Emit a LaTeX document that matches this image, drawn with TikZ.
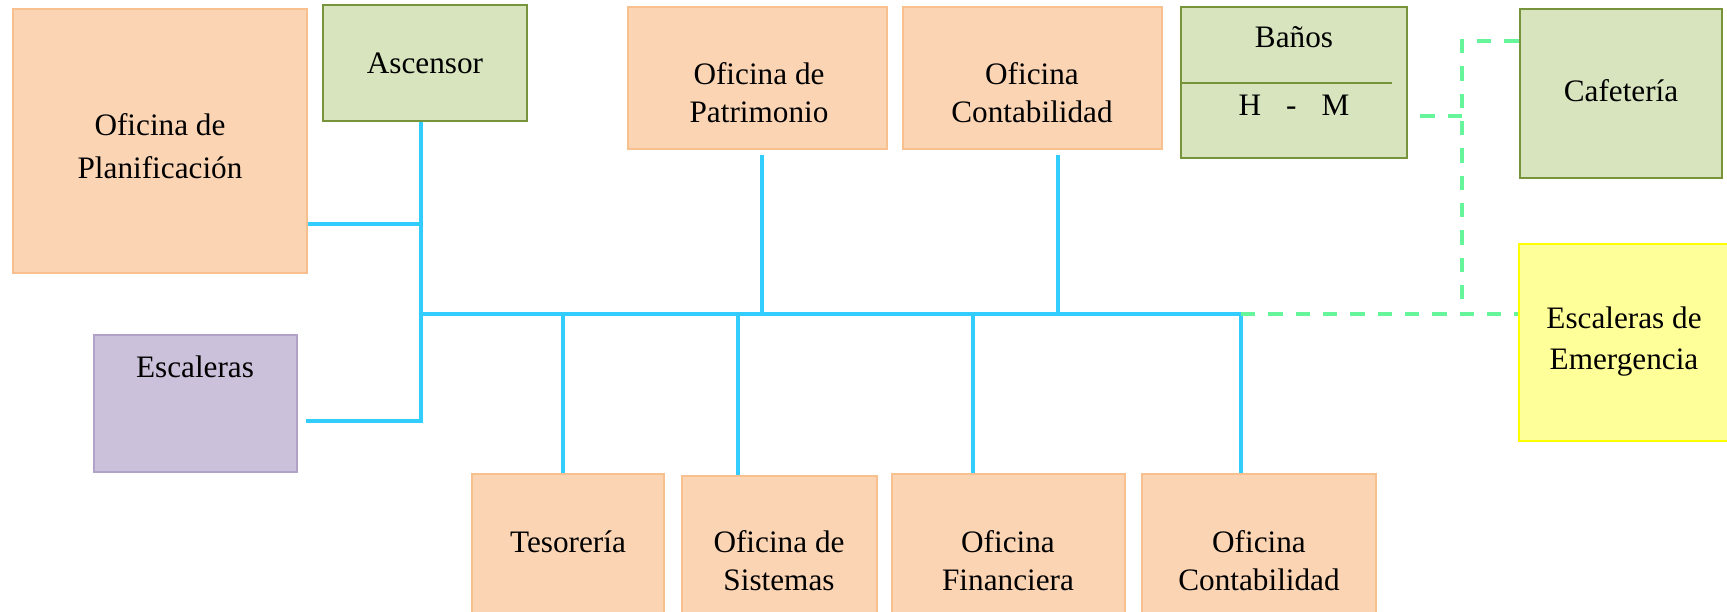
\documentclass[tikz,border=0pt]{standalone}
\usepackage{fontspec}
\setmainfont{Liberation Serif}
\usepackage{tikz}
\usetikzlibrary{fit}

\definecolor{peachfill}{HTML}{FBD4B4}
\definecolor{peachdraw}{HTML}{F9C08F}
\definecolor{olivefill}{HTML}{D7E4BD}
\definecolor{olivedraw}{HTML}{77933C}
\definecolor{lilacfill}{HTML}{CCC1DA}
\definecolor{lilacdraw}{HTML}{B3A2C7}
\definecolor{exitfill}{HTML}{FFFF99}
\definecolor{exitdraw}{HTML}{FFFF00}
\definecolor{hallblue}{HTML}{33CCFF}
\definecolor{linkgreen}{HTML}{66F59A}

\begin{document}
\begin{tikzpicture}[x=0.0135cm, y=-0.0135cm]
    % Define styles
    \tikzstyle{room}=[inner sep=0pt, line width=0.8pt]
    \tikzstyle{office}=[room, draw=peachdraw, fill=peachfill]
    \tikzstyle{service}=[room, draw=olivedraw, fill=olivefill, line width=1pt]
    \tikzstyle{stairs}=[room, draw=lilacdraw, fill=lilacfill]
    \tikzstyle{exit_room}=[room, draw=exitdraw, fill=exitfill]
    \tikzstyle{room_text}=[anchor=north, inner sep=0pt, align=center, font=\fontsize{12}{14.5}\selectfont]
    \tikzstyle{hall}=[line width=1.9pt, color=hallblue]
    \tikzstyle{link_dashed}=[line width=1.5pt, color=linkgreen, dash pattern=on 5.5pt off 5pt]

    \useasboundingbox (0,0) rectangle (1727,611);

    % --- 1. Rooms (boxes) ---
    \node[office, fit={(13,9) (307,273)}] (plan) {};
    \node[service, fit={(323,5) (527,121)}] (asc) {};
    \node[stairs, fit={(94,335) (297,472)}] (esc) {};
    \node[office, fit={(628,7) (887,149)}] (patr) {};
    \node[office, fit={(903,7) (1162,149)}] (contb) {};
    \node[service, fit={(1181,7) (1407,158)}] (banos) {};
    \node[service, fit={(1520,9) (1722,178)}] (cafe) {};
    \node[exit_room, fit={(1519,244) (1732,441)}] (emer) {};

    % bottom row
    \node[office, fit={(472,474) (664,640)}] (teso) {};
    \node[office, fit={(682,476) (877,640)}] (sist) {};
    \node[office, fit={(892,474) (1125,640)}] (fina) {};
    \node[office, fit={(1142,474) (1376,640)}] (conta) {};

    % divider inside Banos
    \coordinate (div) at (1392,83);
    \draw[olivedraw, line width=0.8pt] (div -| banos.west) -- (div);

    % --- 2. Texts ---
    \node[room_text, font=\fontsize{12}{16.5}\selectfont] (plan-t) at (160,113) {Oficina de\\Planificación};
    \node[room_text] (asc-t) at (425,52) {Ascensor};
    \node[room_text] (esc-t) at (195,355) {Escaleras};
    \node[room_text] (patr-t) at (759,62) {Oficina de\\Patrimonio};
    \node[room_text] (contb-t) at (1032,62) {Oficina\\Contabilidad};
    \node[room_text] (banos-t) at (1294,26) {Baños};
    \node[room_text] (hm-t) at (1294,95) {H\hspace{0.8em}-\hspace{0.8em}M};
    \node[room_text] (cafe-t) at (1621,79) {Cafetería};
    \node[room_text, font=\fontsize{12}{16}\selectfont] (emer-t) at (1624,306) {Escaleras de\\Emergencia};
    \node[room_text] (teso-t) at (568,530) {Tesorería};
    \node[room_text] (sist-t) at (779,530) {Oficina de\\Sistemas};
    \node[room_text] (fina-t) at (1008,530) {Oficina\\Financiera};
    \node[room_text] (conta-t) at (1259,530) {Oficina\\Contabilidad};

    % --- 3. Corridors (blue) ---
    \coordinate (j-plan) at (421,224);
    \coordinate (j-bus) at (421,314);
    \coordinate (j-esc) at (421,421);
    \coordinate (e-esc) at (306,421);
    \coordinate (j-end) at (1241,314);

    \draw[hall] (asc.south -| j-bus) -- (j-esc) -- (e-esc);
    \draw[hall] (plan.east |- j-plan) -- (j-plan);
    \draw[hall] (j-bus) -- (j-end) -- (j-end |- conta.north);

    % up to the top offices
    \foreach \b/\x in {patr/762, contb/1058} {
        \coordinate (u-\b) at (\x,314);
        \draw[hall, shorten >=2pt] (u-\b) -- (u-\b |- \b.south);
    }
    % down to the bottom offices
    \foreach \b/\x in {teso/563, sist/738, fina/973} {
        \coordinate (d-\b) at (\x,314);
        \draw[hall] (d-\b) -- (d-\b |- \b.north);
    }

    % --- 4. Links (green dashed) ---
    \coordinate (g-top) at (1462,41);
    \coordinate (g-mid) at (1462,116);
    \coordinate (g-bot) at (1462,315);

    \draw[link_dashed] (cafe.west |- g-top) -- (g-top) -- (g-bot);
    \draw[link_dashed, shorten >=3pt] (g-mid) -- (banos.east |- g-mid);
    \draw[link_dashed] (j-end) -- (emer.west |- j-end);

\end{tikzpicture}
\end{document}
